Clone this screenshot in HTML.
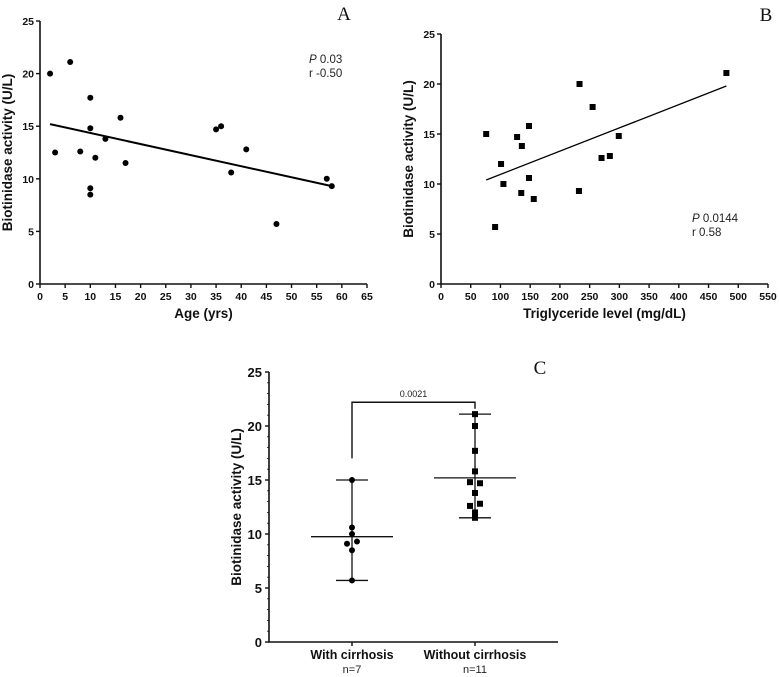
<!DOCTYPE html>
<html><head><meta charset="utf-8"><style>
html,body{margin:0;padding:0;background:#fff;}
svg{display:block;font-family:"Liberation Sans",Arial,sans-serif;}
.tk{font-size:10.5px;font-weight:bold;fill:#111;}
.ttl{font-size:13.5px;font-weight:bold;fill:#111;}
.pl{font-family:"Liberation Serif",serif;font-size:19px;fill:#111;}
</style></head><body>
<svg id="c" width="779" height="677" viewBox="0 0 779 677"></svg>
<script>
const ageX=[2,3,6,8,10,10,10,10,11,13,16,17,35,36,38,41,47,57,58];
const ageY=[20,12.5,21.1,12.6,17.7,14.8,9.1,8.5,12,13.8,15.8,11.5,14.7,15,10.6,12.8,5.7,10,9.3];
const ageFit=[[2,15.2],[58,9.3]];
const tgX=[76,91,101,105,128,135,136,148,148,156,232,233,255,270,284,299,480];
const tgY=[15,5.7,12,10,14.7,9.1,13.8,15.8,10.6,8.5,9.3,20,17.7,12.6,12.8,14.8,21.1];
const tgFit=[[76,10.4],[480,19.8]];
const groups=["With cirrhosis","Without cirrhosis"];
const groupN=["n=7","n=11"];
const g1=[15,10.6,10,9.1,9.3,8.5,5.7];
const g2=[21.1,20,17.7,15.8,14.8,14.7,13.8,12.6,12.8,12,11.5];
const gCenter=[9.75,15.2];
const gLow=[5.7,11.5];
const gHigh=[15,21.1];
const yTicks=[0,5,10,15,20,25];
const ageTicks=[0,5,10,15,20,25,30,35,40,45,50,55,60,65];
const tgTicks=[0,50,100,150,200,250,300,350,400,450,500,550];
const pValC="0.0021";

const svg=document.getElementById('c');
const NS='http://www.w3.org/2000/svg';
function el(t,a,p){const e=document.createElementNS(NS,t);for(const k in a)e.setAttribute(k,a[k]);(p||svg).appendChild(e);return e;}
function txt(s,a,p){const e=el('text',a,p);e.textContent=s;return e;}
function scale(d0,d1,r0,r1){return v=>r0+(v-d0)/(d1-d0)*(r1-r0);}

function scatter(name,x0,x1,y0,y1,xmax,xs,ys,fit,xt,square,xtitle,stats,statPos,letter,letterPos){
  const g=el('g',{},svg);
  
  
  const X=scale(0,xmax,x0,x1),Y=scale(0,25,y0,y1);
  const ax=el('path',{d:`M${x0},${y1} V${y0} H${x1}`,stroke:'#111','stroke-width':1.6,fill:'none'},g);
  
  yTicks.forEach(v=>{el('line',{x1:x0-4,x2:x0,y1:Y(v),y2:Y(v),stroke:'#111','stroke-width':1.4},g);
    const t=txt(v,{x:x0-6,y:Y(v)+4,'text-anchor':'end',class:'tk'},g);});
  xt.forEach(v=>{el('line',{x1:X(v),x2:X(v),y1:y0,y2:y0+4,stroke:'#111','stroke-width':1.4},g);
    const t=txt(v,{x:X(v),y:y0+16,'text-anchor':'middle',class:'tk'},g);});
  xs.forEach((v,i)=>{let m;
    if(square)m=el('rect',{x:X(v)-3,y:Y(ys[i])-3,width:6,height:6,fill:'#000'},g);
    else m=el('circle',{cx:X(v),cy:Y(ys[i]),r:3,fill:'#000'},g);
    });
  const l=el('line',{x1:X(fit[0][0]),y1:Y(fit[0][1]),x2:X(fit[1][0]),y2:Y(fit[1][1]),stroke:'#000','stroke-width':square?1.3:2},g);
  
  const yt=txt('Biotinidase activity (U/L)',{transform:`translate(${x0-28},${(y0+y1)/2}) rotate(-90)`,'text-anchor':'middle',class:'ttl'},g);
  
  const xtt=txt(xtitle,{x:(x0+x1)/2,y:y0+34,'text-anchor':'middle',class:'ttl'},g);
  
  const st=el('text',{x:statPos[0],y:statPos[1],style:'font-size:11.5px;fill:#222'},g);
  
  st.innerHTML=`<tspan font-style="italic">P</tspan> ${stats[0]}<tspan x="${statPos[0]}" dy="14">r ${stats[1]}</tspan>`;
  const lt=txt(letter,{x:letterPos[0],y:letterPos[1],'text-anchor':'middle',class:'pl'},g);
  
}
scatter('panel-a-scatter',40,367,284,21,65,ageX,ageY,ageFit,ageTicks,false,'Age (yrs)',['0.03','-0.50'],[309,63],'A',[344,20]);
scatter('panel-b-scatter',441,768,284,34,550,tgX,tgY,tgFit,tgTicks,true,'Triglyceride level (mg/dL)',['0.0144','0.58'],[692,222],'B',[766,21]);

// Panel C
(function(){
  const g=el('g',{},svg);
  
  
  const x0=269,x1=558,y0=642,y1=372;
  const Y=scale(0,25,y0,y1);
  const cx=[352,475];
  const ax=el('path',{d:`M${x0},${y1} V${y0} H${x1}`,stroke:'#111','stroke-width':1.6,fill:'none'},g);
  
  for(let v=0;v<=25;v++){const major=v%5===0;
    el('line',{x1:x0-(major?4:2),x2:x0,y1:Y(v),y2:Y(v),stroke:'#111','stroke-width':major?1.4:0.8},g);}
  yTicks.forEach(v=>{const t=txt(v,{x:x0-7,y:Y(v)+5,'text-anchor':'end',class:'ttl',style:'font-size:13px'},g);});
  cx.forEach(c=>el('line',{x1:c,x2:c,y1:y0,y2:y0+4,stroke:'#111','stroke-width':1.4},g));
  groups.forEach((s,i)=>{const t=txt(s,{x:cx[i],y:659,'text-anchor':'middle',class:'ttl',style:'font-size:12.5px'},g);
    const n=txt(groupN[i],{x:cx[i],y:673,'text-anchor':'middle',style:'font-size:11px;fill:#222'},g);});
  const data=[g1,g2];
  data.forEach((arr,i)=>{const c=cx[i];
    const v=el('line',{x1:c,x2:c,y1:Y(gLow[i]),y2:Y(gHigh[i]),stroke:'#111','stroke-width':1.3},g);
    [gLow[i],gHigh[i]].forEach(q=>{const h=el('line',{x1:c-16,x2:c+16,y1:Y(q),y2:Y(q),stroke:'#111','stroke-width':1.3},g);});
    const m=el('line',{x1:c-41,x2:c+41,y1:Y(gCenter[i]),y2:Y(gCenter[i]),stroke:'#111','stroke-width':1.3},g);
    arr.forEach((v,j)=>{
      let off=0;
      arr.forEach((w,k)=>{if(k!==j&&Math.abs(w-v)<=0.25)off=(j<k?-5:5);});
      let p;
      if(i===0)p=el('circle',{cx:c+off,cy:Y(v),r:3,fill:'#000'},g);
      else p=el('rect',{x:c+off-3,y:Y(v)-3,width:6,height:6,fill:'#000'},g);
      });
  });
  const by=Y(22.2);
  const br=el('path',{d:`M${cx[0]},${Y(17)} V${by} H${cx[1]} V${Y(21.6)}`,stroke:'#111','stroke-width':1.4,fill:'none'},g);
  
  const pv=txt(pValC,{x:(cx[0]+cx[1])/2,y:by-5,'text-anchor':'middle',style:'font-size:9px;fill:#222'},g);
  
  const yt=txt('Biotinidase activity (U/L)',{transform:`translate(${x0-28},${(y0+y1)/2}) rotate(-90)`,'text-anchor':'middle',class:'ttl'},g);
  
  const lt=txt('C',{x:540,y:374,'text-anchor':'middle',class:'pl'},g);
  
})();
</script>
</body></html>
